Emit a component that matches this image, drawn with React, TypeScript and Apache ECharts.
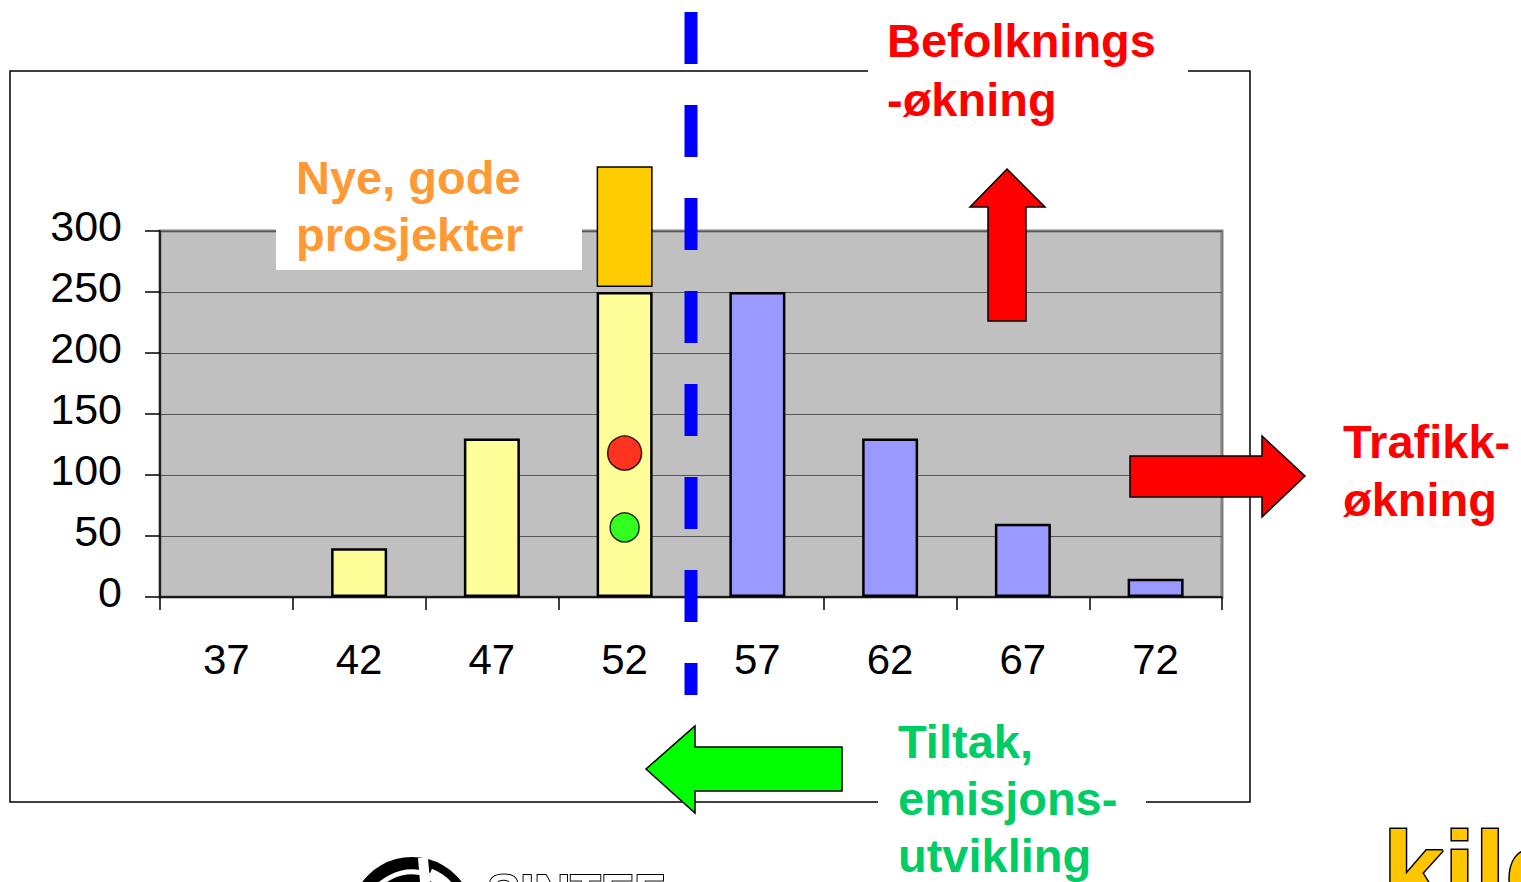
import React, { useEffect, useRef } from "react";
import * as echarts from "echarts";

// ---- data ----
const categories = ["37", "42", "47", "52", "57", "62", "67", "72"];
const barValues = [0, 40, 130, 250, 250, 130, 60, 15];
// first 4 categories yellow (existing), the rest blue
const yellowCount = 4;
// "Nye, gode prosjekter" block on category 52, from 254 up to 353
const newProjectsCategory = "52";
const newProjectsFrom = 254;
const newProjectsTo = 353;
// dots on category 52
const dotValues = [118, 57];
const dotColors = ["#FF0000", "#00FF00"];
const dotSizes = [34, 29];
const yTicks = { min: 0, max: 300, interval: 50 };

const FONT = "'Liberation Sans', Arial, sans-serif";

export default function App() {
  const ref = useRef<HTMLDivElement>(null);
  useEffect(() => {
    if (!ref.current) return;
    const chart = echarts.init(ref.current, null, { renderer: "svg" });
    const npIdx = categories.indexOf(newProjectsCategory);
    const option: any = {
      animation: false,
      backgroundColor: "#FFFFFF",
      grid: {
        left: 160,
        right: 299,
        top: 231,
        bottom: 285,
        show: true,
        backgroundColor: "#C0C0C0",
        borderColor: "#808080",
        borderWidth: 3,
      },
      xAxis: {
        type: "category",
        data: categories,
        axisLine: { show: true, lineStyle: { color: "#000", width: 1.5 } },
        axisTick: { show: true, length: 13, lineStyle: { color: "#000", width: 1.5 } },
        axisLabel: { fontSize: 42, color: "#000", fontFamily: FONT, margin: 41 },
        splitLine: { show: false },
      },
      yAxis: {
        type: "value",
        min: yTicks.min,
        max: yTicks.max,
        interval: yTicks.interval,
        axisLine: { show: true, lineStyle: { color: "#000", width: 1.5 } },
        axisTick: { show: true, length: 15, lineStyle: { color: "#000", width: 1.5 } },
        axisLabel: {
          fontSize: 43,
          color: "#000",
          fontFamily: FONT,
          margin: 38,
          verticalAlign: "bottom",
          lineHeight: 10,
        },
        splitLine: { show: true, lineStyle: { color: "#555", width: 1 } },
      },
      series: [
        {
          type: "bar",
          barWidth: 56,
          barGap: "-100%",
          z: 3,
          data: barValues.map((v, i) => ({
            value: v === 0 ? null : v,
            itemStyle: {
              color: i < yellowCount ? "#FFFF99" : "#9999FF",
              borderColor: "#000",
              borderWidth: 2.5,
            },
          })),
        },
        {
          type: "bar",
          stack: "np",
          barWidth: 56,
          barGap: "-100%",
          z: 2,
          silent: true,
          itemStyle: { color: "rgba(0,0,0,0)", borderWidth: 0 },
          data: categories.map((c, i) => (i === npIdx ? newProjectsFrom : null)),
        },
        {
          type: "bar",
          stack: "np",
          barWidth: 56,
          barGap: "-100%",
          clip: false,
          z: 4,
          itemStyle: { color: "#FFCC00", borderColor: "#000", borderWidth: 1.5 },
          data: categories.map((c, i) => (i === npIdx ? newProjectsTo - newProjectsFrom : null)),
        },
        {
          type: "scatter",
          z: 5,
          data: dotValues.map((v, i) => ({
            value: [newProjectsCategory, v],
            symbolSize: dotSizes[i],
            itemStyle: { color: dotColors[i], borderColor: "#000", borderWidth: 1.5 },
          })),
        },
      ],
    };
    chart.setOption(option);

    const c3 = chart.convertToPixel({ xAxisIndex: 0 }, 3) as number;
    const c4 = chart.convertToPixel({ xAxisIndex: 0 }, 4) as number;
    const divX = (c3 + c4) / 2;

    const label = (t: string, x: number, y: number, color: string) => ({
      type: "text",
      z: 102,
      x,
      y,
      style: {
        text: t,
        fill: color,
        font: `bold 47px ${FONT}`,
        textVerticalAlign: "middle",
        textAlign: "left",
      },
    });

    const graphic: any[] = [
      {
        type: "rect",
        z: 1,
        shape: { x: 10, y: 71, width: 1240, height: 731 },
        style: { fill: "none", stroke: "#000", lineWidth: 1.5 },
      },
      // white boxes behind labels
      { type: "rect", z: 100, shape: { x: 868, y: 0, width: 320, height: 130 }, style: { fill: "#fff" } },
      { type: "rect", z: 100, shape: { x: 878, y: 716, width: 268, height: 166 }, style: { fill: "#fff" } },
      { type: "rect", z: 100, shape: { x: 276, y: 150, width: 306, height: 120 }, style: { fill: "#fff" } },
      label("Befolknings", 887, 40, "#FF0000"),
      label("-økning", 887, 99, "#FF0000"),
      label("Trafikk-", 1343, 441, "#FF0000"),
      label("økning", 1343, 499, "#FF0000"),
      label("Nye, gode", 296, 177, "#FF9933"),
      label("prosjekter", 296, 234, "#FF9933"),
      label("Tiltak,", 898, 741, "#00CC66"),
      label("emisjons-", 898, 798, "#00CC66"),
      label("utvikling", 898, 855, "#00CC66"),
      // arrows
      {
        type: "polygon",
        z: 101,
        shape: { points: [[1007, 169], [1045, 207], [1026, 207], [1026, 321], [988, 321], [988, 207], [970, 207]] },
        style: { fill: "#FF0000", stroke: "#000", lineWidth: 1.5 },
      },
      {
        type: "polygon",
        z: 101,
        shape: { points: [[1130, 456], [1262, 456], [1262, 436], [1305, 476], [1262, 517], [1262, 497], [1130, 497]] },
        style: { fill: "#FF0000", stroke: "#000", lineWidth: 1.5 },
      },
      {
        type: "polygon",
        z: 101,
        shape: { points: [[646, 769], [695, 726], [695, 747], [842, 747], [842, 791], [695, 791], [695, 813]] },
        style: { fill: "#00FF00", stroke: "#000", lineWidth: 1.5 },
      },
      // dashed divider
      {
        type: "line",
        z: 110,
        shape: { x1: divX, y1: 12, x2: divX, y2: 695 },
        style: { stroke: "#0000FF", lineWidth: 13, lineDash: [52, 41] },
      },
      // SINTEF logo (partly cut off)
      { type: "circle", z: 50, shape: { cx: 412, cy: 919, r: 62 }, style: { fill: "#000" } },
      {
        type: "arc",
        z: 51,
        shape: { cx: 412, cy: 919, r: 47, startAngle: Math.PI * 1.08, endAngle: Math.PI * 1.62 },
        style: { stroke: "#fff", lineWidth: 5, fill: "none" },
      },
      {
        type: "arc",
        z: 51,
        shape: { cx: 412, cy: 919, r: 33, startAngle: Math.PI * 1.1, endAngle: Math.PI * 1.6 },
        style: { stroke: "#fff", lineWidth: 5, fill: "none" },
      },
      {
        type: "polygon",
        z: 51,
        shape: { points: [[418, 858], [428, 858], [430, 882], [420, 882]] },
        style: { fill: "#fff" },
      },
      {
        type: "arc",
        z: 51,
        shape: { cx: 412, cy: 919, r: 48, startAngle: Math.PI * 1.62, endAngle: Math.PI * 1.98 },
        style: { stroke: "#fff", lineWidth: 12, fill: "none" },
      },
      {
        type: "text",
        z: 50,
        x: 487,
        y: 868,
        style: {
          text: "SINTEF",
          font: `bold 50px ${FONT}`,
          fill: "#fff",
          stroke: "#000",
          lineWidth: 2,
          textVerticalAlign: "top",
        },
      },
      {
        type: "text",
        z: 50,
        x: 1383,
        y: 814,
        style: {
          text: "kilde",
          font: `bold 110px ${FONT}`,
          fill: "#FFC600",
          stroke: "#000",
          lineWidth: 3,
          textVerticalAlign: "top",
        },
      },
    ];
    chart.setOption({ graphic });

    return () => chart.dispose();
  }, []);

  return (
    <div
      ref={ref}
      style={{ position: "fixed", left: 0, top: 0, width: 1521, height: 882, background: "#fff" }}
    />
  );
}
